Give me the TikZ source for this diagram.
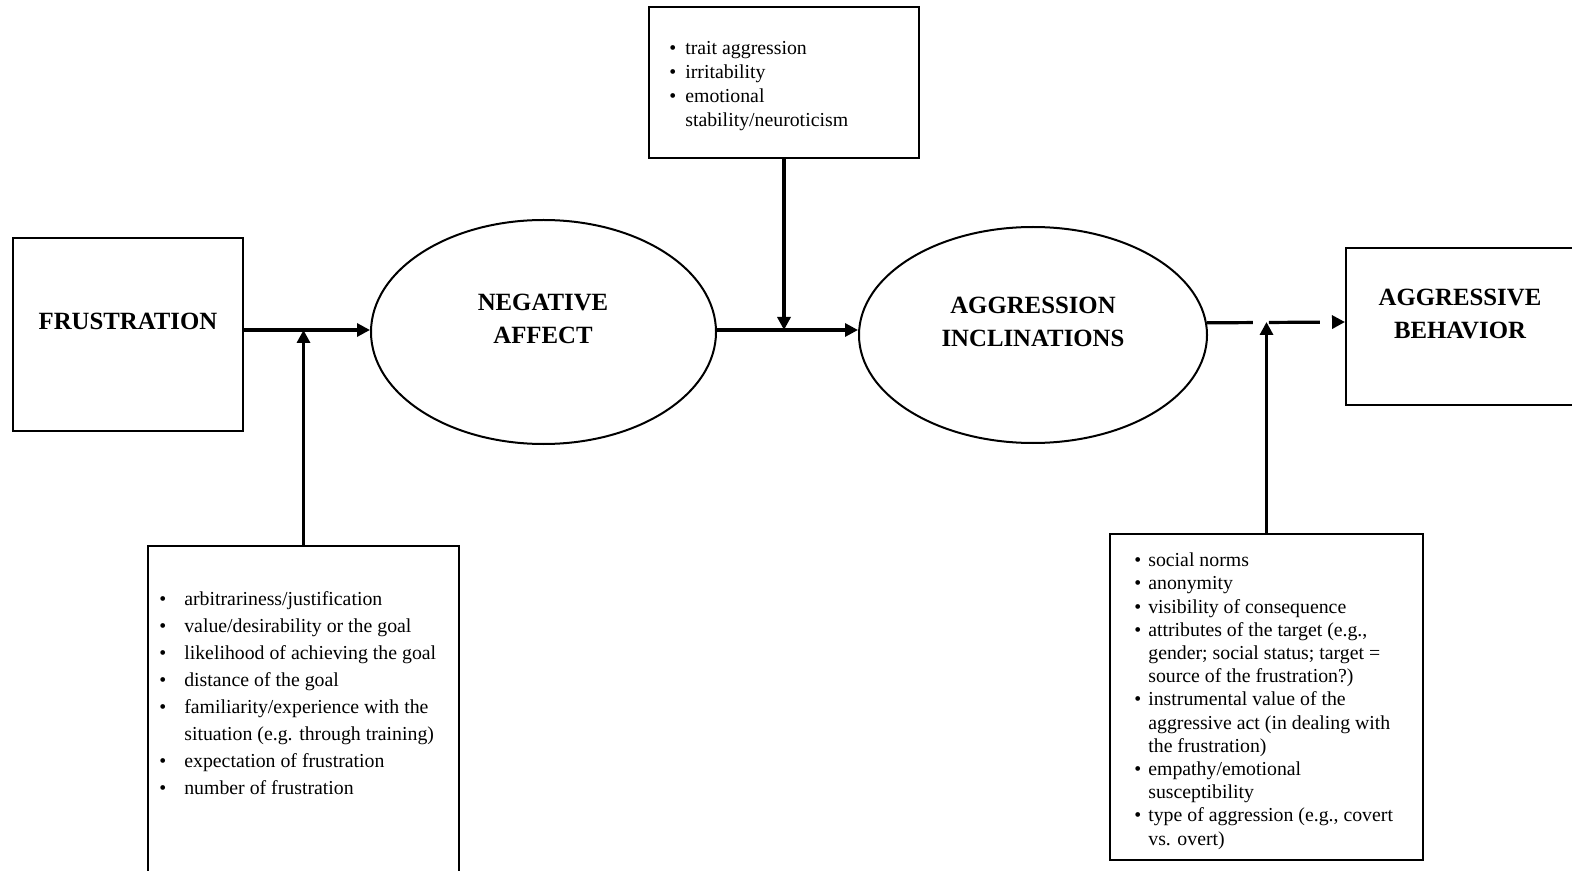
\documentclass[tikz,border=0pt]{standalone}
\usepackage{fontspec}
\setmainfont{Liberation Serif}
\usetikzlibrary{arrows.meta,shapes.geometric}

% two-column bullet list: #1 = gap between bullet and text, #2 = rows
\newcommand{\bulletlist}[2]{\begin{tabular}{@{}l@{\hspace{#1}}l@{}}#2\end{tabular}}

\begin{document}
\begin{tikzpicture}[x=0.5pt,y=-0.5pt,
  box/.style={draw,line width=1pt,rectangle,inner sep=0pt},
  oval/.style={draw,line width=1pt,ellipse,inner sep=0pt},
  heading/.style={font=\fontsize{12.4}{16.5}\selectfont\bfseries,align=center,inner sep=0pt},
  listtext/.style={anchor=north west,inner sep=0pt},
  arr/.style={line width=1.6pt,-{Triangle[length=6.5pt,width=6.5pt]}},
]
\useasboundingbox (0,0) rectangle (1572,871);

% main chain
\node[box,minimum width=115pt,minimum height=96.5pt] (fr) at (128,334.5) {};
\node[heading] (frtxt) at (128,321) {FRUSTRATION};

\node[oval,minimum width=172.5pt,minimum height=112pt] (na) at (543.5,332) {};
\node[heading] (natxt) at (543,318.5) {NEGATIVE\\AFFECT};

\node[oval,minimum width=174pt,minimum height=108pt] (ag) at (1033,335) {};
\node[heading] (agtxt) at (1033,321.5) {AGGRESSION\\INCLINATIONS};

\node[box,minimum width=122pt,minimum height=78.5pt] (beh) at (1468,326.5) {};
\node[heading] (behtxt) at (1460,313.5) {AGGRESSIVE\\BEHAVIOR};

% moderator boxes
\node[box,minimum width=135pt,minimum height=75.5pt] (top) at (784,82.5) {};
\node[listtext,font=\fontsize{9.9}{12}\selectfont] (toplist) at (669,37)
  {\bulletlist{4.5pt}{%
   \textbullet & trait aggression\\
   \textbullet & irritability\\
   \textbullet & emotional\\
               & stability/neuroticism\\}};

\node[box,minimum width=155.5pt,minimum height=169pt] (bl) at (303.5,715) {};
\node[listtext,font=\fontsize{9.9}{13.5}\selectfont] (bllist) at (159,586)
  {\bulletlist{9pt}{%
   \textbullet & arbitrariness/justification\\
   \textbullet & value/desirability or the goal\\
   \textbullet & likelihood of achieving the goal\\
   \textbullet & distance of the goal\\
   \textbullet & familiarity/experience with the\\
               & situation (e.g. through training)\\
   \textbullet & expectation of frustration\\
   \textbullet & number of frustration\\}};

\node[box,minimum width=156.5pt,minimum height=163pt] (br) at (1266.5,697) {};
\node[listtext,font=\fontsize{9.9}{11.6}\selectfont] (brlist) at (1134,550)
  {\bulletlist{3.5pt}{%
   \textbullet & social norms\\
   \textbullet & anonymity\\
   \textbullet & visibility of consequence\\
   \textbullet & attributes of the target (e.g.,\\
               & gender; social status; target =\\
               & source of the frustration?)\\
   \textbullet & instrumental value of the\\
               & aggressive act (in dealing with\\
               & the frustration)\\
   \textbullet & empathy/emotional\\
               & susceptibility\\
   \textbullet & type of aggression (e.g., covert\\
               & vs. overt)\\}};

% connectors
\coordinate (j1) at (303.5,330);
\coordinate (j2) at (784,330);
\coordinate (j3) at (1266.5,322);

\draw[arr] (fr.east |- j1) -- (na.west |- j1);
\draw[arr] (bl.north) -- (j1);

\draw[arr] (na.east |- j2) -- (ag.west |- j2);
\draw[arr] (top.south) -- (j2);

\draw[arr,dash pattern=on 23pt off 8pt on 25.5pt off 30pt] (ag.4.3) -- (beh.west |- j3);
\draw[arr] (br.north) -- (j3);
\end{tikzpicture}
\end{document}
